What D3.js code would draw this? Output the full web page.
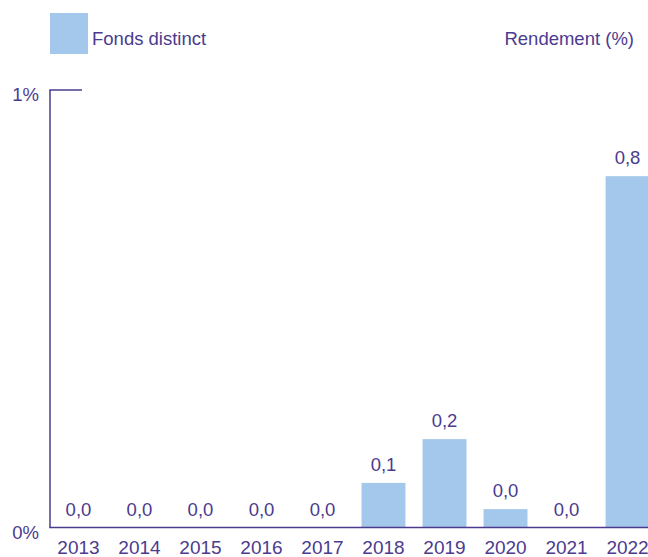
<!DOCTYPE html>
<html>
<head>
<meta charset="utf-8">
<script src="https://cdn.jsdelivr.net/npm/d3@7"></script>
<style>
  body { margin: 0; background: #fff; }
  text { font-family: "Liberation Sans", Arial, sans-serif; }
</style>
</head>
<body>
<svg></svg>
<script>
var years = ['2013', '2014', '2015', '2016', '2017', '2018', '2019', '2020', '2021', '2022'];
var rendement = [0, 0, 0, 0, 0, 0.102, 0.202, 0.042, 0, 0.803];
var yTicks = [0, 1];
var seriesName = 'Fonds distinct';
var unitLabel = 'Rendement (%)';

var width = 648;
var height = 557;
var ink = '#4b3b8f';
var barColor = '#a3c8eb';

var svg = d3.select('svg')
    .attr('width', width)
    .attr('height', height);

var x = d3.scaleBand()
          .domain(years)
          .range([56.5, 649.5])
          .paddingInner(0.28)
          .paddingOuter(0);

var y = d3.scaleLinear()
          .domain([0, 1])
          .range([527.5, 90]);

//legend
svg.append('rect')
    .attr('x', 50).attr('y', 13)
    .attr('width', 38).attr('height', 41)
    .attr('fill', barColor);
svg.append('text')
    .attr('x', 92).attr('y', 45)
    .attr('fill', ink)
    .attr('font-size', 18.5)
    .text(seriesName);
svg.append('text')
    .attr('x', 634).attr('y', 45)
    .attr('text-anchor', 'end')
    .attr('fill', ink)
    .attr('font-size', 18.5)
    .text(unitLabel);

//bars
svg.selectAll('.bar')
  .data(rendement)
  .enter()
  .append('rect')
    .classed('bar', true)
    .attr('x', (d, i) => x(years[i]))
    .attr('y', d => y(d))
    .attr('width', x.bandwidth())
    .attr('height', d => y(0) - y(d))
    .attr('fill', barColor);

//value labels
svg.selectAll('.val')
  .data(rendement)
  .enter()
  .append('text')
    .classed('val', true)
    .attr('x', (d, i) => x(years[i]) + x.bandwidth() / 2)
    .attr('y', d => y(d) - 12)
    .attr('text-anchor', 'middle')
    .attr('fill', ink)
    .attr('font-size', 18.5)
    .text(d => d3.format('.1f')(d).replace('.', ','));

//year labels
svg.selectAll('.year')
  .data(years)
  .enter()
  .append('text')
    .classed('year', true)
    .attr('x', d => x(d) + x.bandwidth() / 2)
    .attr('y', 554)
    .attr('text-anchor', 'middle')
    .attr('fill', ink)
    .attr('font-size', 19)
    .text(d => d);

//axes
svg.append('line')
    .attr('x1', 50).attr('x2', 50)
    .attr('y1', y(1)).attr('y2', y(0))
    .attr('stroke', ink).attr('stroke-width', 1.5);
svg.append('line')
    .attr('x1', 49.25).attr('x2', 82)
    .attr('y1', y(1)).attr('y2', y(1))
    .attr('stroke', ink).attr('stroke-width', 1.5);
svg.append('line')
    .attr('x1', 49.25).attr('x2', width)
    .attr('y1', y(0)).attr('y2', y(0))
    .attr('stroke', ink).attr('stroke-width', 1.5);

svg.selectAll('.ytick')
  .data(yTicks)
  .enter()
  .append('text')
    .classed('ytick', true)
    .attr('x', 39)
    .attr('y', d => y(d) + 11)
    .attr('text-anchor', 'end')
    .attr('fill', ink)
    .attr('font-size', 18.5)
    .text(d => d + '%');
</script>
</body>
</html>
